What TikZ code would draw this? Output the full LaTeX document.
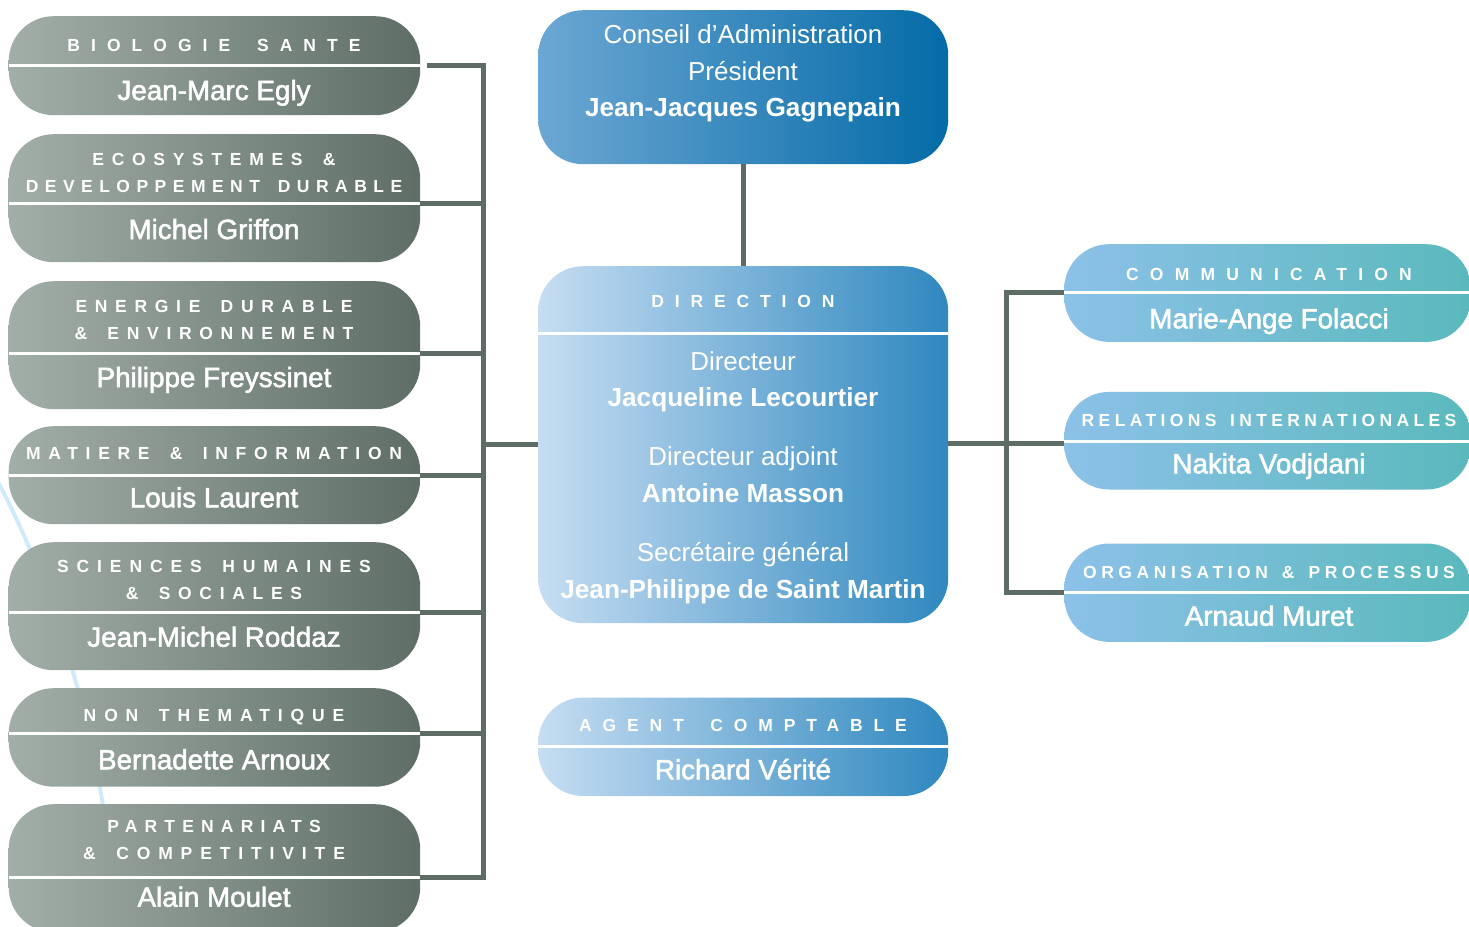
\documentclass[tikz,border=0pt]{standalone}
\usepackage{fontspec}
\setmainfont{Liberation Sans}

\definecolor{grisl}{HTML}{A2AFA8}
\definecolor{grisr}{HTML}{5E6E66}
\definecolor{trait}{HTML}{5D6D65}
\definecolor{cal}{HTML}{6CA7D3}
\definecolor{car}{HTML}{046BA7}
\definecolor{dirl}{HTML}{C6DDF2}
\definecolor{dirr}{HTML}{2F88BF}
\definecolor{rtl}{HTML}{8CC1E8}
\definecolor{rtr}{HTML}{5AB9BC}
\definecolor{ciel}{HTML}{CFEAF8}

% letterspaced caps for the box headers, \ws = word space with the tracking
\newlength\trkskip
\newcommand\trk[2]{{\addfontfeature{LetterSpace=#1}\setlength\trkskip{\fpeval{#1/100}em}#2}}
\newcommand\ws{\hspace*{\trkskip}\space}

\begin{document}
\begin{tikzpicture}[x=1pt,y=-1pt,
		boite/.style={rounded corners=45,inner sep=0,anchor=north west,draw=none},
		lbox/.style={boite,minimum width=411.5,left color=grisl,right color=grisr},
		cbox/.style={boite,minimum width=410,left color=dirl,right color=dirr},
		rbox/.style={boite,minimum width=407,left color=rtl,right color=rtr},
		sep/.style={white,line width=3},
		conn/.style={trait,line width=5,line join=miter},
		hd/.style={text=white,inner sep=0,anchor=base,font=\fontsize{17.5}{21}\selectfont\bfseries},
		nm/.style={text=white,inner sep=0,anchor=base,font=\fontsize{27.8}{32}\selectfont\addfontfeature{FakeBold=2}},
		nmb/.style={text=white,inner sep=0,anchor=base,font=\fontsize{26.2}{30}\selectfont\bfseries},
		lt/.style={text=white,inner sep=0,anchor=base,font=\fontsize{26}{30}\selectfont}]
		\useasboundingbox (0,0) rectangle (1469,926);
		\clip (0,0) rectangle (1469,926);

		% light curve behind the left column
		\draw[ciel,line width=4] (-2,482) .. controls (45,570) and (85,690) .. (104,812);

		% left column
		\foreach \i/\t/\h in {1/16/99,2/134/128,3/281/128,4/426/98,5/542/128,6/688/98.5,7/804/128}
			\node[lbox,minimum height=\h] (b\i) at (8.5,\t) {};
		\foreach \i/\s in {1/65,2/203,3/353,4/475,5/612,6/733,7/877}{
			\coordinate (s\i) at (214,\s);
			\draw[sep] (b\i.west |- s\i) -- (b\i.east |- s\i);
		}
		\node[hd] (h1) at (214,51.7) {\trk{63}{BIOLOGIE\ws SANTE}};
		\node[nm] (n1) at (214,100) {Jean-Marc Egly};
		\node[hd] (h2a) at (214,165.7) {\trk{44}{ECOSYSTEMES\ws \&}};
		\node[hd] (h2b) at (214,192.3) {\trk{37}{DEVELOPPEMENT\ws DURABLE}};
		\node[nm] (n2) at (214,239) {Michel Griffon};
		\node[hd] (h3a) at (214,312.5) {\trk{44}{ENERGIE\ws DURABLE}};
		\node[hd] (h3b) at (214,339) {\trk{44}{\&\ws ENVIRONNEMENT}};
		\node[nm] (n3) at (214,387) {Philippe Freyssinet};
		\node[hd] (h4) at (214,459.3) {\trk{44}{MATIERE\ws \&\ws INFORMATION}};
		\node[nm] (n4) at (214,507.3) {Louis Laurent};
		\node[hd] (h5a) at (214,572.3) {\trk{45}{SCIENCES\ws HUMAINES}};
		\node[hd] (h5b) at (214,599) {\trk{44}{\&\ws SOCIALES}};
		\node[nm] (n5) at (214,646.7) {Jean-Michel Roddaz};
		\node[hd] (h6) at (214,721.7) {\trk{45}{NON\ws THEMATIQUE}};
		\node[nm] (n6) at (214,769.3) {Bernadette Arnoux};
		\node[hd] (h7a) at (214,832.3) {\trk{41}{PARTENARIATS}};
		\node[hd] (h7b) at (214,859.3) {\trk{45}{\&\ws COMPETITIVITE}};
		\node[nm] (n7) at (214,906.7) {Alain Moulet};

		% centre column
		\node[cbox,minimum height=154,left color=cal,right color=car] (ca) at (538,10) {};
		\node[lt] (ca1) at (743,43.3) {Conseil d’Administration};
		\node[lt] (ca2) at (743,80) {Président};
		\node[nmb] (ca3) at (743,116) {Jean-Jacques Gagnepain};

		\node[cbox,minimum height=357] (dir) at (538,266) {};
		\coordinate (ds) at (743,333.3);
		\draw[sep] (dir.west |- ds) -- (dir.east |- ds);
		\node[hd] (dh) at (743,307.7) {\trk{62}{DIRECTION}};
		\node[lt] (d1) at (743,370) {Directeur};
		\node[nmb] (d2) at (743,406.7) {Jacqueline Lecourtier};
		\node[lt] (d3) at (743,465.7) {Directeur adjoint};
		\node[nmb] (d4) at (743,502.7) {Antoine Masson};
		\node[lt] (d5) at (743,561.7) {Secrétaire général};
		\node[nmb] (d6) at (743,598.3) {Jean-Philippe de Saint Martin};

		\node[cbox,minimum height=98.5] (ag) at (538,697.3) {};
		\coordinate (as) at (743,746.7);
		\draw[sep] (ag.west |- as) -- (ag.east |- as);
		\node[hd] (ah) at (743,731.7) {\trk{62}{AGENT\ws COMPTABLE}};
		\node[nm] (an) at (743,779.3) {Richard Vérité};

		% right column
		\foreach \i/\t/\h in {1/244/97.7,2/391.7/97.6,3/543.3/98.4}
			\node[rbox,minimum height=\h] (r\i) at (1064,\t) {};
		\foreach \i/\s in {1/292.3,2/441,3/592.3}{
			\coordinate (rs\i) at (1269,\s);
			\draw[sep] (r\i.west |- rs\i) -- (r\i.east |- rs\i);
		}
		\node[hd] (rh1) at (1269,280) {\trk{64}{COMMUNICATION}};
		\node[nm] (rn1) at (1269,328.3) {Marie-Ange Folacci};
		\node[hd] (rh2) at (1269,426) {\trk{25}{RELATIONS\ws INTERNATIONALES}};
		\node[nm] (rn2) at (1269,473.3) {Nakita Vodjdani};
		\node[hd] (rh3) at (1269,578.3) {\trk{26}{ORGANISATION\ws \&\ws PROCESSUS}};
		\node[nm] (rn3) at (1269,625.7) {Arnaud Muret};

		% connectors
		\coordinate (lbus) at (483,444);
		\coordinate (rbus) at (1006.5,443);
		\draw[conn] ([xshift=6.5]b1.east |- s1) -| (lbus |- s7) -- (b7.east |- s7);
		\foreach \i in {2,...,6}
			\draw[conn] (b\i.east |- s\i) -- (lbus |- s\i);
		\draw[conn] (lbus) -- (dir.west |- lbus);
		\draw[conn] (ca.south) -- (dir.north);
		\draw[conn] (dir.east |- rbus) -- (rbus);
		\draw[conn] (r1.west |- rs1) -| (rbus |- rs3) -- (r3.west |- rs3);
		\draw[conn] (rbus) -- (r2.west |- rbus);
\end{tikzpicture}
\end{document}
